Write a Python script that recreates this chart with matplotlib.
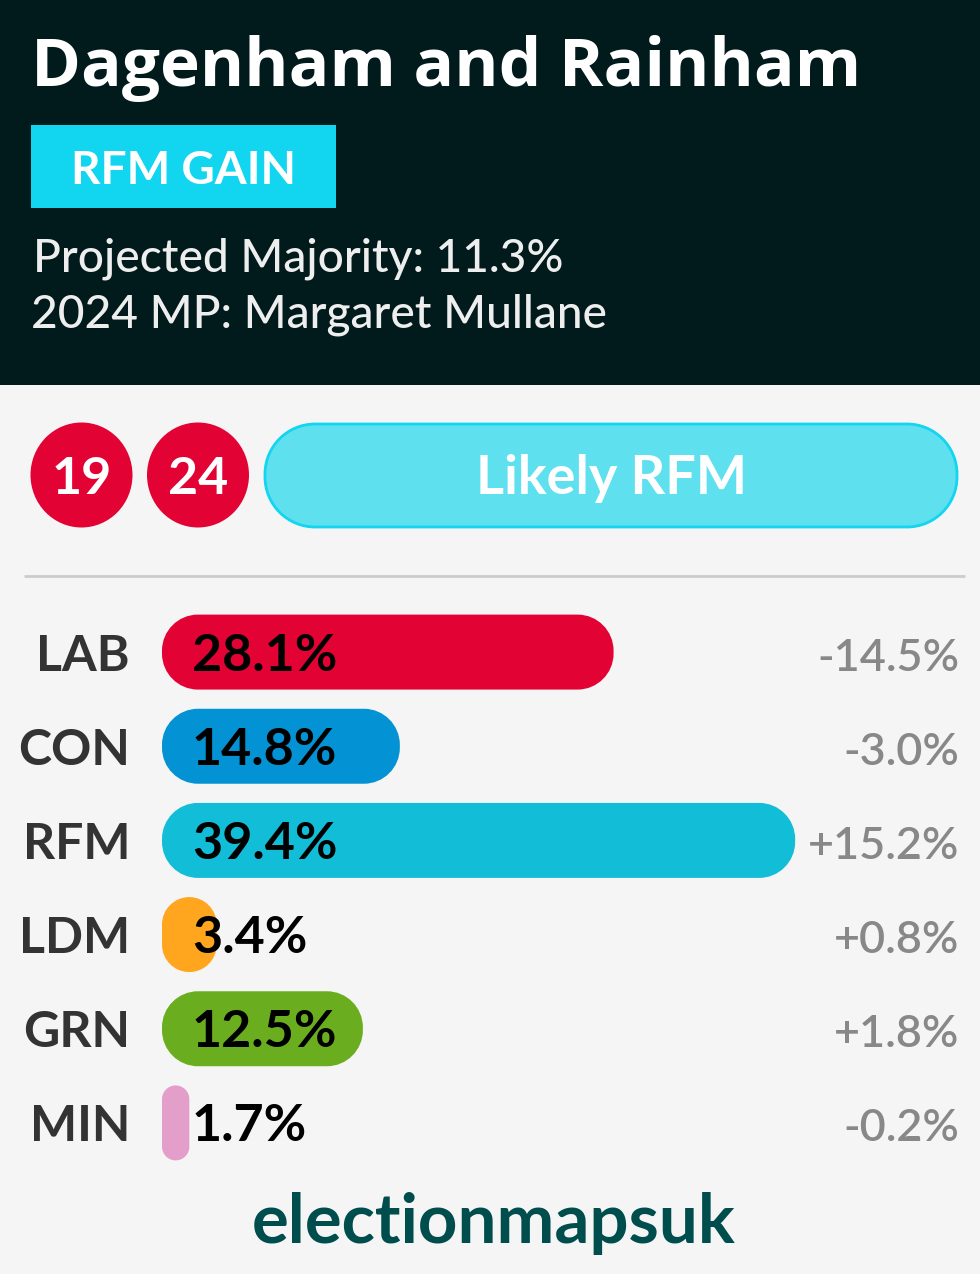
import matplotlib
matplotlib.use('Agg')
import matplotlib.pyplot as plt
from matplotlib.patches import PathPatch, Rectangle, Ellipse
from matplotlib.path import Path

plt.rcParams['font.family'] = ['Lato', 'DejaVu Sans']

# data
parties = ['LAB', 'CON', 'RFM', 'LDM', 'GRN', 'MIN']
shares = [28.1, 14.8, 39.4, 3.4, 12.5, 1.7]
changes = ['-14.5%', '-3.0%', '+15.2%', '+0.8%', '+1.8%', '-0.2%']
bar_colors = ['#e30234', '#0392d3', '#12bdd8', '#ffa51e', '#6aae20', '#e39fca']

title = 'Dagenham and Rainham'
gain_label = 'RFM GAIN'
info_lines = ['Projected Majority: 11.3%', '2024 MP: Margaret Mullane']
past_wins = ['19', '24']
rating = 'Likely RFM'
credit = 'electionmapsuk'

W, H = 980, 1274
px_pt = 0.72  # px to pt at dpi 100


def rounded_rect(x, y, w, h, rx, ry):
    # FancyBboxPatch corners are too square, use cubic corners instead
    kx, ky = rx * 0.448, ry * 0.448
    verts = [(x + rx, y), (x + w - rx, y),
             (x + w - kx, y), (x + w, y + ky), (x + w, y + ry),
             (x + w, y + h - ry),
             (x + w, y + h - ky), (x + w - kx, y + h), (x + w - rx, y + h),
             (x + rx, y + h),
             (x + kx, y + h), (x, y + h - ky), (x, y + h - ry),
             (x, y + ry),
             (x, y + ky), (x + kx, y), (x + rx, y),
             (x + rx, y)]
    L, C = Path.LINETO, Path.CURVE4
    codes = [Path.MOVETO, L, C, C, C, L, C, C, C, L, C, C, C, L, C, C, C, Path.CLOSEPOLY]
    return Path(verts, codes)


fig = plt.figure(figsize=(W / 100, H / 100), dpi=100, facecolor='#f5f5f5')

# background panel in pixel coords
bg = fig.add_axes([0, 0, 1, 1])
bg.set_xlim(0, W)
bg.set_ylim(H, 0)
bg.axis('off')

bg.add_patch(Rectangle((0, 0), W, 385, color='#011a1c', lw=0))
bg.text(31, 86, title, color='white', fontsize=67.5 * px_pt, fontweight='bold', family='Open Sans')
bg.add_patch(Rectangle((31, 125), 305, 83, color='#12d5f0', lw=0))
bg.text(183.5, 184, gain_label, color='white', fontsize=46 * px_pt, fontweight='bold', ha='center')
bg.text(33, 272, info_lines[0], color='#eeeeee', fontsize=46 * px_pt, fontweight='medium')
bg.text(31, 328, info_lines[1], color='#eeeeee', fontsize=46 * px_pt, fontweight='medium')

for cx, lab in zip([81.5, 198], past_wins):
    bg.add_patch(Ellipse((cx, 475), 102, 105, color='#e30234', lw=0))
    bg.text(cx, 494, lab, color='white', fontsize=52 * px_pt, fontweight='bold', ha='center')

bg.add_patch(PathPatch(rounded_rect(265, 424, 692, 103, 50, 50), fc='#5fe0ef', ec='#12d5f0', lw=2))
bg.text(611, 494, rating, color='white', fontsize=54 * px_pt, fontweight='bold', ha='center')
bg.plot([24, 965], [576, 576], color='#cccccc', lw=2, solid_capstyle='butt')
bg.text(494, 1243, credit, color='#004d4d', fontsize=69 * px_pt, fontweight='bold', ha='center')

# bars
px_per_pct = 16.07
row_px = 94.2
top_px, bottom_px = 605, 1170
ax = fig.add_axes([162 / W, 1 - bottom_px / H, (W - 162) / W, (bottom_px - top_px) / H])
ax.set_xlim(0, (W - 162) / px_per_pct)
ax.set_ylim(5.5, -0.5)
ax.axis('off')

bar_h = 75 / row_px
for i, (p, v, ch, c) in enumerate(zip(parties, shares, changes, bar_colors)):
    # corner radius in px, capped at half the bar width like css does
    r = min(36, v * px_per_pct / 2)
    ax.add_patch(PathPatch(rounded_rect(0, i - bar_h / 2, v, bar_h, r / px_per_pct, r / row_px),
                           fc=c, ec='none'))
    ax.annotate(f'{v}%', xy=(0, i), xytext=(30 * px_pt, -4 * px_pt), textcoords='offset points',
                va='center', ha='left', fontsize=52 * px_pt, fontweight='bold', color='black')
    ax.annotate(p, xy=(0, i), xytext=(-32 * px_pt, -4 * px_pt), textcoords='offset points',
                va='center', ha='right', fontsize=50 * px_pt, fontweight='bold', color='#333333')
    ax.annotate(ch, xy=(1, i), xycoords=('axes fraction', 'data'), xytext=(-21 * px_pt, -6 * px_pt),
                textcoords='offset points', va='center', ha='right', fontsize=45 * px_pt,
                fontweight='semibold', color='#888888')

fig.savefig('out.png', dpi=100, facecolor=fig.get_facecolor())
